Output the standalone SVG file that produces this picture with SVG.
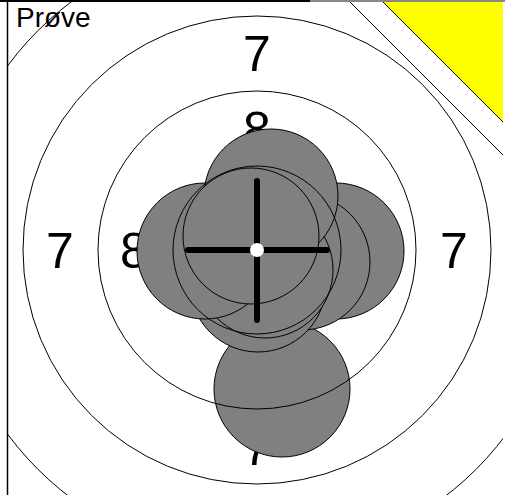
<svg xmlns="http://www.w3.org/2000/svg" width="505" height="495" viewBox="0 0 505 495">
<style>
.lbl{font-family:"Liberation Sans",Arial,sans-serif;font-size:50px;fill:#000;text-anchor:middle}
.ring{fill:none;stroke:#000;stroke-width:1}
.shot{fill:#808080;stroke:#000;stroke-width:1}
.cross{stroke:#000;stroke-width:6;stroke-linecap:round}
</style>
<defs>
<clipPath id="clip"><rect x="8" y="2" width="495" height="493"/></clipPath>
</defs>
<rect x="0" y="0" width="505" height="495" fill="#fff"/>
<g id="target" clip-path="url(#clip)">
  <g id="labels">
    <text class="lbl" x="257" y="71">7</text>
    <text class="lbl" x="60" y="268">7</text>
    <text class="lbl" x="454" y="268">7</text>
    <text class="lbl" x="257" y="465">7</text>
    <text class="lbl" x="257" y="147">8</text>
    <text class="lbl" x="134" y="268">8</text>
    <text class="lbl" x="380" y="268">8</text>
    <text class="lbl" x="257" y="389">8</text>
  </g>
  <g id="shots">
    <circle id="shot-d" class="shot" cx="282" cy="389" r="68"/>
    <circle id="shot-c" class="shot" cx="336" cy="251" r="68"/>
    <circle id="shot-f" class="shot" cx="302" cy="262" r="68"/>
    <circle id="shot-h" class="shot" cx="258" cy="284" r="68"/>
    <circle id="shot-g" class="shot" cx="265" cy="270" r="68"/>
    <circle id="shot-b" class="shot" cx="205" cy="251" r="68"/>
    <circle id="shot-a" class="shot" cx="271" cy="196" r="67"/>
    <circle id="shot-e" class="shot" cx="251" cy="236" r="68"/>
  </g>
  <g id="rings">
    <circle class="ring" cx="257" cy="250" r="84"/>
    <circle class="ring" cx="257" cy="250" r="159"/>
    <circle class="ring" cx="257" cy="250" r="234"/>
    <circle class="ring" cx="257" cy="250" r="310"/>
  </g>
  <g id="crosshair">
    <line class="cross" x1="188" y1="250" x2="327" y2="250"/>
    <line class="cross" x1="257" y1="181" x2="257" y2="320"/>
    <circle cx="257" cy="250" r="7" fill="#fff"/>
  </g>
  <g id="corner">
    <line x1="350" y1="2" x2="505" y2="157" stroke="#000" stroke-width="1"/>
    <polygon points="383,2 503,2 503,122" fill="#ff0" stroke="none"/>
    <line x1="383" y1="2" x2="503" y2="122" stroke="#000" stroke-width="1"/>
  </g>
</g>
<text x="16" y="27" font-family="'Liberation Sans',Arial,sans-serif" font-size="28">Prøve</text>
<g id="frame">
  <line x1="0" y1="1" x2="310" y2="1" stroke="#000" stroke-width="2"/>
  <line x1="310" y1="1" x2="505" y2="1" stroke="#888" stroke-width="2"/>
  <line x1="7.5" y1="0" x2="7.5" y2="495" stroke="#000" stroke-width="1.5"/>
</g>
</svg>
